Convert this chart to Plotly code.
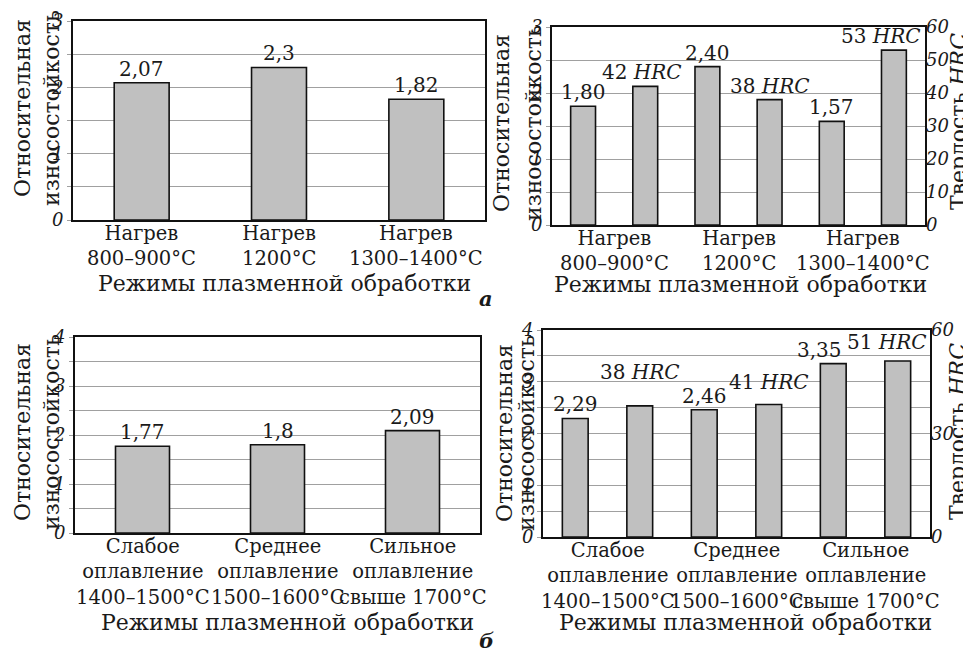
import plotly.graph_objects as go

# ---------------- data ----------------
heat_categories = ["Нагрев<br>800–900°C", "Нагрев<br>1200°C", "Нагрев<br>1300–1400°C"]
heat_wear = [2.07, 2.3, 1.82]
heat_wear_labels = ["2,07", "2,3", "1,82"]
heat_wear_b = [1.80, 2.40, 1.57]
heat_wear_b_labels = ["1,80", "2,40", "1,57"]
heat_hrc = [42, 38, 53]
heat_hrc_labels = ["42 <i>HRC</i>", "38 <i>HRC</i>", "53 <i>HRC</i>"]

melt_categories = ["Слабое<br>оплавление<br>1400–1500°C",
                   "Среднее<br>оплавление<br>1500–1600°C",
                   "Сильное<br>оплавление<br>свыше 1700°C"]
melt_wear = [1.77, 1.8, 2.09]
melt_wear_labels = ["1,77", "1,8", "2,09"]
melt_wear_b = [2.29, 2.46, 3.35]
melt_wear_b_labels = ["2,29", "2,46", "3,35"]
melt_hrc = [38, 38.4, 51]
melt_hrc_labels = ["38 <i>HRC</i>", "41 <i>HRC</i>", "51 <i>HRC</i>"]

grid_top = [0, 0.5, 1, 1.5, 2, 2.5, 3]
grid_top_text = ["0", "", "1", "", "2", "", "3"]
grid_bottom = [0, 0.5, 1, 1.5, 2, 2.5, 3, 3.5, 4]
grid_bottom_text = ["0", "", "1", "", "2", "", "3", "", "4"]
hrc_ticks_top = [0, 10, 20, 30, 40, 50, 60]
hrc_ticks_bottom = [0, 30, 60]

ytitle_lines = ["Относительная", "износостойкость"]
ytitle_right = "Твердость <i>HRC</i>"
xtitle = "Режимы плазменной обработки"

# ---------------- style ----------------
PAGE_PAD = 8                      # browser body margin
W, H = 971 - PAGE_PAD, 657 - PAGE_PAD
FONT = "DejaVu Serif"
TXT = "#1a1a1a"
BAR_FILL = "#c0c0c0"
GRID = "#a0a0a0"
LBL = 20
CAT = 19.5
NUM = 18
TTL = 22
BW1 = 0.4
BW2 = 0.2
# label nudges (pixels): (dx, dy) per bar
nudge_heat_hrc = [(-3, 0), (0, 0), (-13, 0)]
nudge_melt_wear_b = [(0, 0), (0, 0), (-14, 0)]
nudge_melt_hrc = [(0, 20), (0, 9), (-11, 5)]

# panel boxes in page pixels: (left, right, top, bottom)
P1 = (73, 485, 21, 220)
P2 = (552, 925, 27, 225)
P3 = (75, 480, 337, 533)
P4 = (543, 930, 330, 537)


def px(x):
    return (x - PAGE_PAD) / W


def py(y):
    return 1 - (y - PAGE_PAD) / H


def bar(x, y, xa, ya, width, offset=None):
    kw = dict(x=x, y=y, xaxis=xa, yaxis=ya, width=width,
              marker=dict(color=BAR_FILL, line=dict(color="#111", width=1.6)),
              showlegend=False, hoverinfo="skip")
    if offset is not None:
        kw["offset"] = offset
    return go.Bar(**kw)


ann = []


def labels(values, texts, xa, ya, shift, nudges=None):
    for i, (v, t) in enumerate(zip(values, texts)):
        dx, dy = nudges[i] if nudges else (0, 0)
        ann.append(dict(text=t, x=i + shift, y=v, xref=xa, yref=ya,
                        xanchor="center", yanchor="bottom", showarrow=False,
                        xshift=dx, yshift=dy,
                        font=dict(family=FONT, size=LBL, color=TXT)))


def cat_labels(cats, xa, box, lift=0):
    for i, c in enumerate(cats):
        ann.append(dict(text=c, x=i, y=py(box[3]), xref=xa, yref="paper",
                        xanchor="center", yanchor="top", showarrow=False, yshift=lift,
                        font=dict(family=FONT, size=CAT, color=TXT)))


fig = go.Figure()
fig.add_trace(bar(heat_categories, heat_wear, "x", "y", BW1))
fig.add_trace(bar(heat_categories, heat_wear_b, "x2", "y2", BW2, -0.25 - BW2 / 2))
fig.add_trace(bar(heat_categories, heat_hrc, "x2", "y3", BW2, 0.25 - BW2 / 2))
fig.add_trace(bar(melt_categories, melt_wear, "x3", "y4", BW1))
fig.add_trace(bar(melt_categories, melt_wear_b, "x4", "y5", BW2, -0.25 - BW2 / 2))
fig.add_trace(bar(melt_categories, melt_hrc, "x4", "y6", BW2, 0.25 - BW2 / 2))

labels(heat_wear, heat_wear_labels, "x", "y", 0)
labels(heat_wear_b, heat_wear_b_labels, "x2", "y2", -0.25)
labels(heat_hrc, heat_hrc_labels, "x2", "y3", 0.25, nudge_heat_hrc)
labels(melt_wear, melt_wear_labels, "x3", "y4", 0)
labels(melt_wear_b, melt_wear_b_labels, "x4", "y5", -0.25, nudge_melt_wear_b)
labels(melt_hrc, melt_hrc_labels, "x4", "y6", 0.25, nudge_melt_hrc)

cat_labels(heat_categories, "x", P1)
cat_labels(heat_categories, "x2", P2)
cat_labels(melt_categories, "x3", P3)
cat_labels(melt_categories, "x4", P4)


def xax(box, anchor):
    return dict(domain=[px(box[0]), px(box[1])], anchor=anchor, type="category",
                range=[-0.5, 2.5],
                showline=True, linecolor="#111", linewidth=1.8, mirror=True,
                showgrid=False, ticks="", showticklabels=False, automargin=False)


def yax(box, anchor, rng, tickvals, ticktext):
    return dict(domain=[py(box[3]), py(box[2])], anchor=anchor, range=rng,
                tickmode="array", tickvals=tickvals, ticktext=ticktext,
                showline=True, linecolor="#111", linewidth=1.8, mirror=True,
                showgrid=True, gridcolor=GRID, gridwidth=1.4, zeroline=False,
                ticks="outside", ticklen=4, tickcolor=GRID, tickwidth=1.4,
                automargin=False, ticklabelstandoff=0,
                tickfont=dict(family=FONT, size=NUM, color=TXT, style="italic"))


def yright(over, anchor, rng, tickvals):
    return dict(overlaying=over, anchor=anchor, side="right", range=rng,
                tickmode="array", tickvals=tickvals,
                showgrid=False, zeroline=False, showline=False, ticks="",
                automargin=False, ticklabelstandoff=0,
                tickfont=dict(family=FONT, size=NUM, color=TXT, style="italic"))


fig.update_layout(
    width=W, height=H, margin=dict(l=0, r=0, t=0, b=0, autoexpand=False),
    paper_bgcolor="white", plot_bgcolor="white", barmode="overlay",
    font=dict(family=FONT, color=TXT),
    xaxis=xax(P1, "y"),
    yaxis=yax(P1, "x", [0, 3], grid_top, grid_top_text),
    xaxis2=xax(P2, "y2"),
    yaxis2=yax(P2, "x2", [0, 3], grid_top, grid_top_text),
    yaxis3=yright("y2", "x2", [0, 60], hrc_ticks_top),
    xaxis3=xax(P3, "y4"),
    yaxis4=yax(P3, "x3", [0, 4], grid_bottom, grid_bottom_text),
    xaxis4=xax(P4, "y5"),
    yaxis5=yax(P4, "x4", [0, 4], grid_bottom, grid_bottom_text),
    yaxis6=yright("y5", "x4", [0, 60], hrc_ticks_bottom),
)


def note(text, x, y, size=TTL, angle=0, italic=False):
    ann.append(dict(text=text, x=px(x), y=py(y), xref="paper", yref="paper",
                    showarrow=False, textangle=angle, xanchor="center", yanchor="middle",
                    font=dict(family=FONT, size=size, color=TXT,
                              style="italic" if italic else "normal")))


for (x1, x2, yc) in [(23, 52, 108), (502, 534, 123), (23, 52, 432), (504, 526, 433)]:
    note(ytitle_lines[0], x1, yc, angle=-90)
    note(ytitle_lines[1], x2, yc, angle=-90)
note(ytitle_right, 958, 122, angle=-90)
note(ytitle_right, 958, 432, angle=-90)
note(xtitle, 284, 283)
note(xtitle, 740, 284)
note(xtitle, 287, 622)
note(xtitle, 745, 622)
note("<b>а</b>", 486, 298, size=21, italic=True)
note("<b>б</b>", 486, 640, size=21, italic=True)
fig.update_layout(annotations=ann)

fig.write_html("out.html")
